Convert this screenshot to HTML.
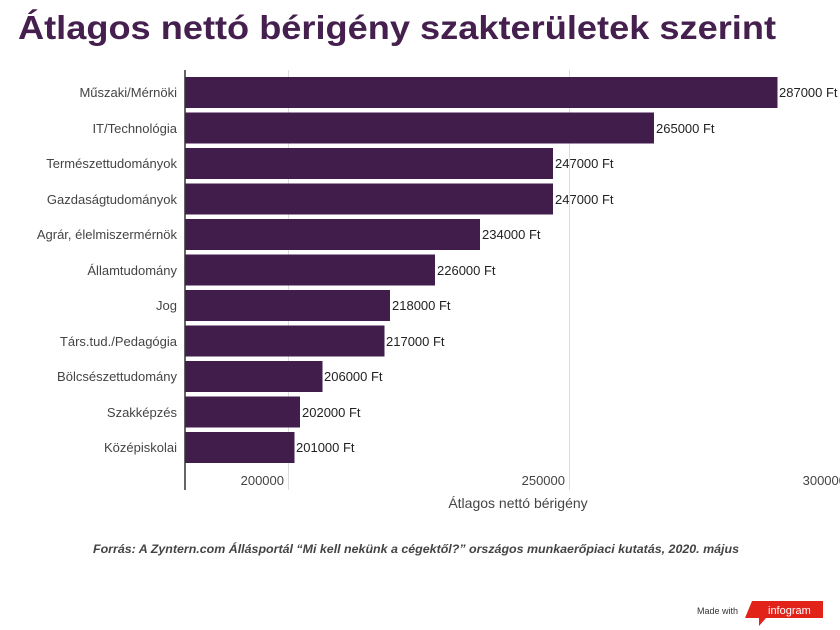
<!DOCTYPE html>
<html><head><meta charset="utf-8"><style>
html,body{margin:0;padding:0;background:#fff;width:840px;height:630px;overflow:hidden}
svg{display:block}
</style></head><body>
<svg width="840" height="630" xmlns="http://www.w3.org/2000/svg" font-family="Liberation Sans, sans-serif">
<text x="18" y="39" font-size="33" font-weight="bold" fill="#45204f" textLength="758" lengthAdjust="spacingAndGlyphs">Átlagos nettó bérigény szakterületek szerint</text>
<line x1="288.5" y1="70" x2="288.5" y2="490" stroke="#dcdcdc" stroke-width="1"/>
<line x1="569.5" y1="70" x2="569.5" y2="490" stroke="#dcdcdc" stroke-width="1"/>
<g fill="#411d4c">
<rect x="185" y="77" width="592.5" height="31"/>
<rect x="185" y="112.5" width="469" height="31"/>
<rect x="185" y="148" width="368" height="31"/>
<rect x="185" y="183.5" width="368" height="31"/>
<rect x="185" y="219" width="295" height="31"/>
<rect x="185" y="254.5" width="250" height="31"/>
<rect x="185" y="290" width="205" height="31"/>
<rect x="185" y="325.5" width="199.5" height="31"/>
<rect x="185" y="361" width="137.5" height="31"/>
<rect x="185" y="396.5" width="115" height="31"/>
<rect x="185" y="432" width="109.5" height="31"/>
</g>
<line x1="185" y1="70" x2="185" y2="490" stroke="#333" stroke-width="1.5"/>
<g font-size="13" fill="#222">
<text x="779" y="97">287000 Ft</text>
<text x="656" y="133">265000 Ft</text>
<text x="555" y="168">247000 Ft</text>
<text x="555" y="204">247000 Ft</text>
<text x="482" y="239">234000 Ft</text>
<text x="437" y="275">226000 Ft</text>
<text x="392" y="310">218000 Ft</text>
<text x="386" y="346">217000 Ft</text>
<text x="324" y="381">206000 Ft</text>
<text x="302" y="417">202000 Ft</text>
<text x="296" y="452">201000 Ft</text>
</g>
<g font-size="13" fill="#444" text-anchor="end">
<text x="177" y="97">Műszaki/Mérnöki</text>
<text x="177" y="133">IT/Technológia</text>
<text x="177" y="168">Természettudományok</text>
<text x="177" y="204">Gazdaságtudományok</text>
<text x="177" y="239">Agrár, élelmiszermérnök</text>
<text x="177" y="275">Államtudomány</text>
<text x="177" y="310">Jog</text>
<text x="177" y="346">Társ.tud./Pedagógia</text>
<text x="177" y="381">Bölcsészettudomány</text>
<text x="177" y="417">Szakképzés</text>
<text x="177" y="452">Középiskolai</text>
<text x="284" y="485">200000</text>
<text x="565" y="485">250000</text>
<text x="846" y="485">300000</text>
</g>
<text x="518" y="508" font-size="14" fill="#444" text-anchor="middle">Átlagos nettó bérigény</text>
<text transform="translate(-1,295) rotate(-90)" font-size="13" fill="#444" text-anchor="middle">Szakterület</text>
<text x="416" y="553" font-size="12" font-style="italic" font-weight="bold" fill="#444" text-anchor="middle" textLength="646" lengthAdjust="spacingAndGlyphs">Forrás: A Zyntern.com Állásportál “Mi kell nekünk a cégektől?” országos munkaerőpiaci kutatás, 2020. május</text>
<text x="697" y="614" font-size="9" fill="#333">Made with</text>
<polygon points="752,601 823,601 823,618 766,618 759,626 759,618 745,618" fill="#e2231a"/>
<text x="768" y="614" font-size="11" fill="#fff">infogram</text>
</svg>
</body></html>
